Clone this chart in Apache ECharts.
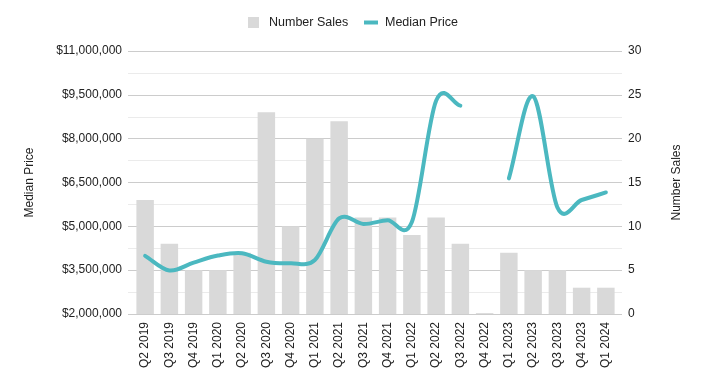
<!DOCTYPE html>
<html>
<head>
<meta charset="utf-8">
<script src="https://cdn.jsdelivr.net/npm/echarts@6/dist/echarts.min.js"></script>
<style>html,body{margin:0;padding:0;background:#fff;}#c{width:703px;height:389px;}</style>
</head>
<body>
<div id="c"></div>
<script>
const categories = ['Q2 2019','Q3 2019','Q4 2019','Q1 2020','Q2 2020','Q3 2020','Q4 2020','Q1 2021','Q2 2021','Q3 2021','Q4 2021','Q1 2022','Q2 2022','Q3 2022','Q4 2022','Q1 2023','Q2 2023','Q3 2023','Q4 2023','Q1 2024'];
const numberSales = [13, 8, 5, 5, 7, 23, 10, 20, 22, 11, 11, 9, 11, 8, 0.1, 7, 5, 5, 3, 3];
const medianPrice = [3990000, 3490000, 3760000, 4000000, 4080000, 3790000, 3740000, 3850000, 5270000, 5080000, 5210000, 5150000, 9300000, 9130000, null, 6640000, 9450000, 5650000, 5900000, 6160000];
const priceTicks = {min: 2000000, max: 11000000, interval: 1500000};
const salesTicks = {min: 0, max: 30, interval: 5};

const font = '"Liberation Sans", Arial, sans-serif';
const txt = '#222';
const lineColor = '#4bb8c0';

// Smooth curve (Catmull-Rom style) through the series points, positioned with the chart's own scales.
function renderPrice(params, api) {
  const i = params.dataIndex;
  const v = medianPrice[i];
  if (v == null) return null;
  if (i > 0 && medianPrice[i - 1] != null) return null; // only draw at start of each run
  const pts = [];
  for (let j = i; j < medianPrice.length && medianPrice[j] != null; j++) {
    pts.push(api.coord([j, medianPrice[j]]));
  }
  if (pts.length < 2) return null;
  const k = 0.5;
  const n = pts.length;
  const tan = pts.map((p, m) => {
    const a = pts[Math.max(0, m - 1)], b = pts[Math.min(n - 1, m + 1)];
    const f = (m === 0 || m === n - 1) ? 1 : k;
    return [(b[0] - a[0]) * f, (b[1] - a[1]) * f];
  });
  let d = 'M' + pts[0][0] + ',' + pts[0][1];
  for (let m = 0; m < n - 1; m++) {
    const p0 = pts[m], p1 = pts[m + 1];
    const c1 = [p0[0] + tan[m][0] / 3, p0[1] + tan[m][1] / 3];
    const c2 = [p1[0] - tan[m + 1][0] / 3, p1[1] - tan[m + 1][1] / 3];
    d += ' C' + c1[0] + ',' + c1[1] + ' ' + c2[0] + ',' + c2[1] + ' ' + p1[0] + ',' + p1[1];
  }
  return {
    type: 'path',
    shape: {pathData: d},
    style: {stroke: lineColor, lineWidth: 4, fill: null, lineCap: 'round', lineJoin: 'round'}
  };
}

const chart = echarts.init(document.getElementById('c'), null, {renderer: 'canvas'});
chart.setOption({
  animation: false,
  textStyle: {fontFamily: font},
  legend: [
    {
      left: 248, top: 16, padding: 0, itemWidth: 11, itemHeight: 11, icon: 'rect',
      textStyle: {fontFamily: font, fontSize: 12.5, color: txt, padding: [0, 0, 0, 5]},
      data: ['Number Sales']
    },
    {
      left: 364, top: 16, padding: 0, itemWidth: 14, itemHeight: 4, icon: 'rect',
      textStyle: {fontFamily: font, fontSize: 12.5, color: txt, padding: [0, 0, 0, 2]},
      data: ['Median Price']
    }
  ],
  grid: [
    {left: 133, right: 85, top: 51, bottom: 75},
    {left: 128, right: 81, top: 51, bottom: 75}
  ],
  xAxis: [
    {
      type: 'category', data: categories, boundaryGap: true, gridIndex: 0,
      axisLine: {show: false},
      axisTick: {show: false},
      axisLabel: {rotate: 90, fontFamily: font, fontSize: 12, color: txt, margin: 8, interval: 0}
    },
    {type: 'value', gridIndex: 1, show: false, min: 0, max: 1}
  ],
  yAxis: [
    {
      type: 'value', min: priceTicks.min, max: priceTicks.max, interval: priceTicks.interval, gridIndex: 0,
      name: 'Median Price', nameLocation: 'middle', nameRotate: 90, nameGap: 97,
      nameTextStyle: {fontFamily: font, fontSize: 12, color: txt},
      axisLine: {show: false}, axisTick: {show: false},
      axisLabel: {fontFamily: font, fontSize: 12, color: txt, margin: 11,
        formatter: v => '$' + v.toLocaleString('en-US')},
      splitLine: {show: false}
    },
    {
      type: 'value', min: salesTicks.min, max: salesTicks.max, interval: salesTicks.interval, gridIndex: 0,
      name: 'Number Sales', nameLocation: 'middle', nameRotate: 90, nameGap: 53,
      nameTextStyle: {fontFamily: font, fontSize: 12, color: txt},
      axisLine: {show: false}, axisTick: {show: false},
      axisLabel: {fontFamily: font, fontSize: 12, color: txt, margin: 10},
      splitLine: {show: false}
    },
    {
      type: 'value', min: salesTicks.min, max: salesTicks.max, interval: salesTicks.interval, gridIndex: 1,
      axisLine: {show: false}, axisTick: {show: false}, axisLabel: {show: false},
      position: 'left',
      splitLine: {show: true, lineStyle: {color: '#cccccc'}},
      minorTick: {show: false, splitNumber: 2},
      minorSplitLine: {show: true, lineStyle: {color: '#ebebeb'}}
    }
  ],
  series: [
    {
      name: 'Number Sales', type: 'bar', xAxisIndex: 0, yAxisIndex: 1, data: numberSales,
      barWidth: '72%', itemStyle: {color: '#d9d9d9'}, z: 2
    },
    {
      name: 'Median Price', type: 'custom', xAxisIndex: 0, yAxisIndex: 0,
      data: medianPrice.map((v, i) => [i, v == null ? '-' : v]),
      encode: {x: 0, y: 1},
      renderItem: renderPrice,
      itemStyle: {color: lineColor}, z: 3
    }
  ]
});
</script>
</body>
</html>
